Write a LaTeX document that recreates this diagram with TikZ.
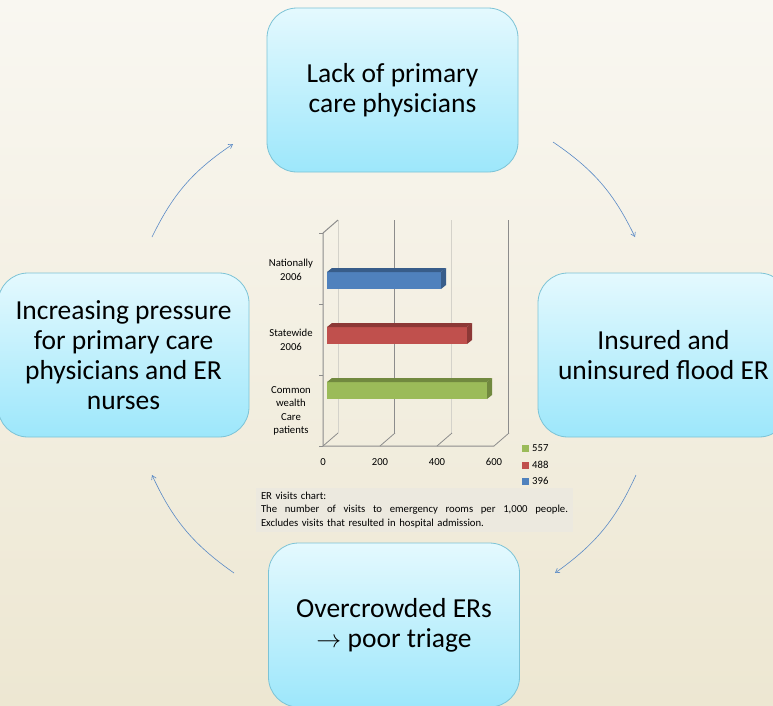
\documentclass[tikz,border=0pt]{standalone}
\usepackage{fontspec}
\setmainfont{Carlito}
\usetikzlibrary{arrows.meta}
\definecolor{bgtop}{HTML}{F9F7F1}
\definecolor{bgbot}{HTML}{EDE7D2}
\definecolor{boxtop}{HTML}{E4F9FE}
\definecolor{boxbot}{HTML}{9DE7FB}
\definecolor{boxline}{HTML}{7CC3D6}
\definecolor{arrowblue}{HTML}{5A8AC6}
\definecolor{barblue}{HTML}{4F81BD}
\definecolor{barbluedk}{HTML}{385D8A}
\definecolor{barred}{HTML}{C0504D}
\definecolor{barreddk}{HTML}{8C3836}
\definecolor{bargreen}{HTML}{9BBB59}
\definecolor{bargreendk}{HTML}{71893F}
\definecolor{capbg}{HTML}{ECE9DF}
\definecolor{griddark}{HTML}{8C8C8C}
\definecolor{gridlight}{HTML}{D4D2CA}

\begin{document}
\begin{tikzpicture}[x=1pt,y=-1pt,
    cyclebox/.style={rounded corners=30pt, draw=boxline, line width=0.8pt,
        top color=boxtop, bottom color=boxbot, minimum width=251pt,
        minimum height=164pt, align=center, inner sep=0pt,
        font=\fontsize{27.5}{30}\selectfont},
    cyclearrow/.style={arrowblue, line width=0.6pt,
        -{Straight Barb[length=4pt,width=5pt]}},
    chartlabel/.style={font=\fontsize{10.7}{13.5}\selectfont, align=center, inner sep=0pt}]
    % Background
    \clip (0,0) rectangle (773,705);
    \shade[top color=bgtop, bottom color=bgbot] (0,0) rectangle (773,705);

    % Cycle boxes
    \node[cyclebox] (lack) at (392.5,90) {Lack of primary\\care physicians};
    \node[cyclebox] (flood) at (663.5,355) {Insured and\\uninsured flood ER};
    \node[cyclebox] (crowd) at (394,625) {Overcrowded ERs\\$\rightarrow$ poor triage};
    \node[cyclebox] (pressure) at (123.5,355) {Increasing pressure\\for primary care\\physicians and ER\\nurses};

    % Arrow ends
    \coordinate (tls) at (152,237);
    \coordinate (tle) at (233,144);
    \coordinate (trs) at (553,142);
    \coordinate (tre) at (635,237);
    \coordinate (brs) at (636,475);
    \coordinate (bre) at (555,573);
    \coordinate (bls) at (234,573);
    \coordinate (ble) at (152,475);
    \draw[cyclearrow] (tls) to[bend left=15] (tle);
    \draw[cyclearrow] (trs) to[bend left=15] (tre);
    \draw[cyclearrow] (brs) to[bend left=15] (bre);
    \draw[cyclearrow] (bls) to[bend left=15] (ble);

    % Chart walls
    \foreach \x/\c in {338/gridlight,394/griddark,451/gridlight,508/griddark}
        \draw[\c, line width=1pt] (\x,220) -- (\x,433);
    \draw[griddark, line width=1pt] (338,220) -- (323,233) -- (323,446) -- (494,446);
    \foreach \x in {323,380,437,494}
        \draw[griddark, line width=0.8pt] (\x,446) -- ++(15,-13);
    \foreach \y in {233,304,375,446}
        \draw[griddark, line width=0.8pt] (323,\y) -- (319,\y);

    % Bars
    \foreach \yt/\xe/\fc/\dc in {272/441/barblue/barbluedk,327/467/barred/barreddk,382/487/bargreen/bargreendk} {
        \fill[\fc] (327,\yt) rectangle (\xe,\yt+17);
        \fill[\dc] (327,\yt) -- (332,\yt-4) -- (\xe+5,\yt-4) -- (\xe,\yt) -- cycle;
        \fill[\dc] (\xe,\yt) -- (\xe+5,\yt-4) -- (\xe+5,\yt+13) -- (\xe,\yt+17) -- cycle;
    }

    % Category labels
    \node[chartlabel] (nat) at (291,270) {Nationally\\2006};
    \node[chartlabel] (state) at (291,340) {Statewide\\2006};
    \node[chartlabel] (common) at (291,411) {Common\\wealth\\Care\\patients};

    % Value axis
    \foreach \x/\v in {323/0,380/200,437/400,494/600}
        \node[chartlabel] (tick\v) at (\x,462) {\v};

    % Legend
    \foreach \y/\c/\v in {448/bargreen/557,465/barred/488,481/barblue/396} {
        \fill[\c] (522,\y-3.5) rectangle (529,\y+3.5);
        \node[chartlabel, anchor=west] (leg\v) at (532,\y) {\v};
    }

    % Caption
    \fill[capbg] (256,488) rectangle (573,532);
    \node[chartlabel, text width=307pt, align=left] (caption) at (414.5,510)
        {ER visits chart:\\
        \leavevmode\hbox to 307pt{The\hfill number\hfill of\hfill visits\hfill to\hfill emergency\hfill rooms\hfill per\hfill 1,000\hfill people.}\\
        Excludes visits that resulted in hospital admission.};
\end{tikzpicture}
\end{document}
